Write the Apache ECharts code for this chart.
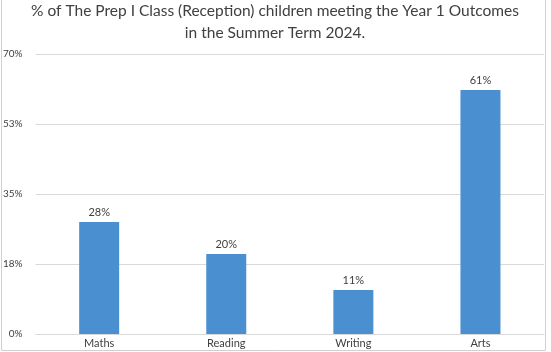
<!DOCTYPE html>
<html><head><meta charset="utf-8">
<script src="https://cdn.jsdelivr.net/npm/echarts@6/dist/echarts.min.js"></script>
<style>html,body{margin:0;padding:0;background:#fff}#c{width:551px;height:352px}</style>
</head><body><div id="c"></div>
<script>
const titleLines = ["% of The Prep I Class (Reception) children meeting the Year 1 Outcomes", "in the Summer Term 2024."];
const categories = ["Maths", "Reading", "Writing", "Arts"];
const values = [28, 20, 11, 61];
const yMax = 70;
const yInterval = 17.5;

const chart = echarts.init(document.getElementById('c'), null, {renderer: 'canvas'});
chart.setOption({
  animation: false,
  backgroundColor: '#fff',
  title: {
    text: titleLines.join('\n'),
    left: 275, top: 0, padding: 0, textAlign: 'center',
    textStyle: {fontFamily: 'Lato', fontSize: 15.5, fontWeight: 'normal', color: '#404040', lineHeight: 22}
  },
  graphic: [{
    type: 'polyline', silent: true,
    shape: {points: [[1.5, 0], [1.5, 350.5], [545.5, 350.5], [545.5, 0]]},
    style: {stroke: '#d0d0d0', lineWidth: 1, fill: null}
  }],
  grid: {left: 34, right: 7, top: 54, bottom: 18, containLabel: false},
  xAxis: {
    type: 'category', data: categories,
    axisLine: {lineStyle: {color: '#d9d9d9'}},
    axisTick: {show: false},
    axisLabel: {color: '#404040', fontFamily: 'Lato', fontSize: 11, margin: 4}
  },
  yAxis: {
    type: 'value', min: 0, max: yMax, interval: yInterval,
    axisLine: {show: false}, axisTick: {show: false},
    splitLine: {lineStyle: {color: '#d9d9d9'}},
    axisLabel: {color: '#404040', fontFamily: 'Lato', fontSize: 10, margin: 13, align: 'right',
      formatter: v => Math.round(v) + '%'}
  },
  series: [{
    type: 'bar', data: values, barWidth: 40,
    itemStyle: {color: '#4a8fcf'},
    label: {show: true, position: 'top', distance: 4, color: '#404040', fontFamily: 'Lato', fontSize: 11,
      formatter: p => p.value + '%'}
  }]
});
</script></body></html>
